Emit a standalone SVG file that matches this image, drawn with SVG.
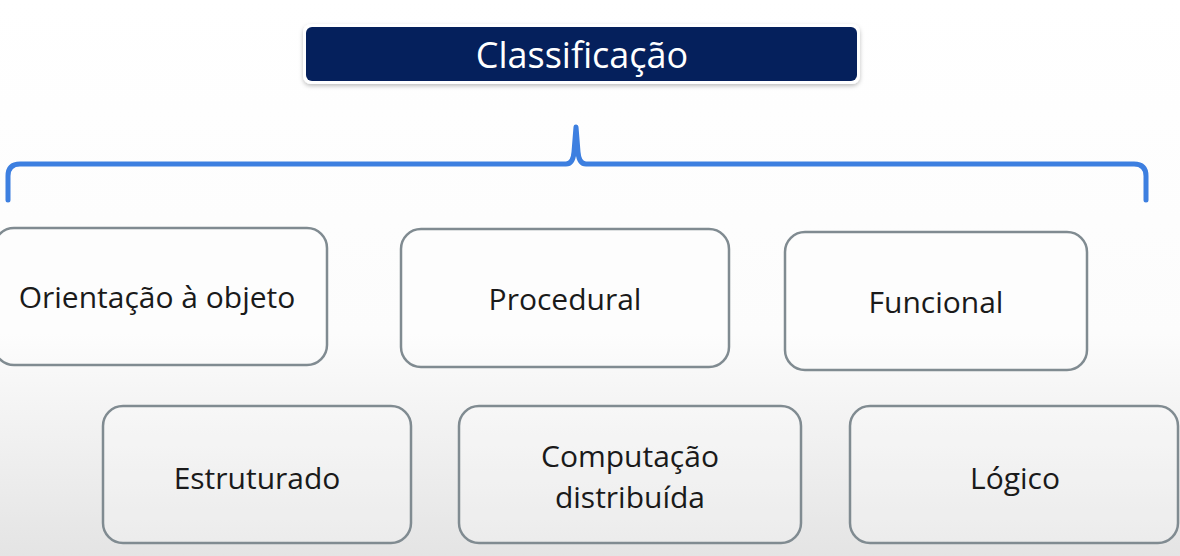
<svg xmlns="http://www.w3.org/2000/svg" width="1180" height="556" viewBox="0 0 1180 556">
  <defs>
    <linearGradient id="bg" x1="0" y1="0" x2="0" y2="1">
      <stop offset="0" stop-color="#ffffff"/>
      <stop offset="0.6" stop-color="#fcfcfc"/>
      <stop offset="1" stop-color="#e4e4e4"/>
    </linearGradient>
    <filter id="sh" x="-5%" y="-30%" width="110%" height="170%">
      <feDropShadow dx="0" dy="2" stdDeviation="2" flood-color="#000" flood-opacity="0.25"/>
    </filter>
    <style>
      .node rect { fill: #ffffff; fill-opacity: 0.25; stroke: #808b91; stroke-width: 2.5; }
      .lbl { font-family: "Open Sans", "Noto Sans", sans-serif; font-size: 30px; fill: #1a1a1a; text-anchor: middle; }
      .title { font-family: "Open Sans", "Noto Sans", sans-serif; font-size: 36px; fill: #ffffff; text-anchor: middle; }
      .brace { fill: none; stroke: #3d7fe0; stroke-width: 5; stroke-linecap: round; stroke-linejoin: round; }
    </style>
  </defs>
  <rect x="0" y="0" width="1180" height="556" fill="url(#bg)"/>

  <g id="title">
    <rect x="303" y="24" width="557" height="60" rx="8" fill="#ffffff" filter="url(#sh)"/>
    <rect x="306" y="27" width="551" height="54" rx="6" fill="#05205c"/>
    <text class="title" x="582" y="68">Classificação</text>
  </g>

  <g id="connectors">
    <path class="brace" d="M8,200 L8,176 Q8,164 20,164 L566,164 Q573,164 574,152 L576,127 L578,152 Q579,164 586,164 L1134,164 Q1146,164 1146,176 L1146,200"/>
  </g>

  <g id="n1" class="node">
    <rect x="-6" y="228" width="333" height="137" rx="20"/>
    <text class="lbl" x="157" y="308">Orientação à objeto</text>
  </g>
  <g id="n2" class="node">
    <rect x="401" y="229" width="328" height="138" rx="20"/>
    <text class="lbl" x="565" y="310">Procedural</text>
  </g>
  <g id="n3" class="node">
    <rect x="785" y="232" width="302" height="138" rx="20"/>
    <text class="lbl" x="936" y="313">Funcional</text>
  </g>
  <g id="n4" class="node">
    <rect x="103" y="406" width="308" height="137" rx="20"/>
    <text class="lbl" x="257" y="489">Estruturado</text>
  </g>
  <g id="n5" class="node">
    <rect x="459" y="406" width="342" height="137" rx="20"/>
    <text class="lbl" x="630" y="467">Computação</text>
    <text class="lbl" x="630" y="508">distribuída</text>
  </g>
  <g id="n6" class="node">
    <rect x="850" y="406" width="328" height="137" rx="20"/>
    <text class="lbl" x="1015" y="489">Lógico</text>
  </g>
</svg>
